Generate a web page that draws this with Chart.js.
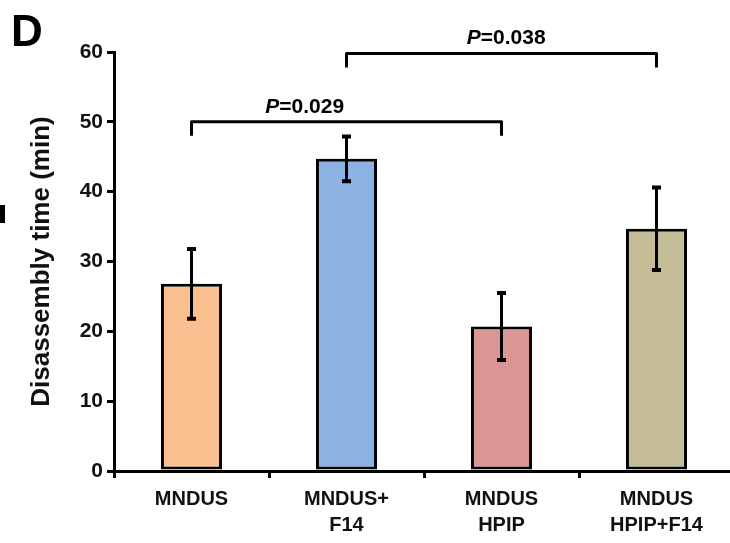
<!DOCTYPE html>
<html>
<head>
<meta charset="utf-8">
<script src="https://cdn.jsdelivr.net/npm/chart.js@4.4.1/dist/chart.umd.min.js"></script>
<style>
  html, body { margin: 0; padding: 0; background: #fff; overflow: hidden; }
  #box { width: 740px; height: 543px; }
</style>
</head>
<body>
<div id="box"><canvas id="myChart" width="740" height="543"></canvas></div>
<script>
// data
const groups = [['MNDUS'], ['MNDUS+', 'F14'], ['MNDUS', 'HPIP'], ['MNDUS', 'HPIP+F14']];
const meanTime = [26.8, 44.7, 20.7, 34.7];
const errTime = [5.0, 3.2, 4.8, 5.9];
const barColors = ['#FAC090', '#8DB3E2', '#D99694', '#C4BD97'];
const yTicks = [0, 10, 20, 30, 40, 50, 60];

// significance brackets
const sigFrom = [0, 1];
const sigTo = [2, 3];
const sigLevel = [50, 59.8];
const sigText = ['=0.029', '=0.038'];
const sigTextAt = [0.73, 2.03];

const fontFam = '"Liberation Sans", Arial, sans-serif';

const errorBars = {
  id: 'errorBars',
  afterDatasetsDraw(chart) {
    const ctx = chart.ctx;
    const y = chart.scales.y;
    const meta = chart.getDatasetMeta(0);
    ctx.save();
    ctx.strokeStyle = '#000';
    meta.data.forEach((bar, i) => {
      const top = y.getPixelForValue(meanTime[i] + errTime[i]);
      const bot = y.getPixelForValue(meanTime[i] - errTime[i]);
      ctx.lineWidth = 3;
      ctx.beginPath();
      ctx.moveTo(bar.x, top);
      ctx.lineTo(bar.x, bot);
      ctx.stroke();
      ctx.lineWidth = 4;
      ctx.beginPath();
      ctx.moveTo(bar.x - 4.5, top);
      ctx.lineTo(bar.x + 4.5, top);
      ctx.moveTo(bar.x - 4.5, bot);
      ctx.lineTo(bar.x + 4.5, bot);
      ctx.stroke();
    });
    ctx.restore();
  }
};

const brackets = {
  id: 'brackets',
  afterDraw(chart) {
    const ctx = chart.ctx;
    const x = chart.scales.x;
    const y = chart.scales.y;
    ctx.save();
    ctx.strokeStyle = '#000';
    ctx.fillStyle = '#000';
    ctx.lineWidth = 3;
    ctx.lineJoin = 'round';
    for (let i = 0; i < sigFrom.length; i++) {
      const x1 = x.getPixelForValue(sigFrom[i]);
      const x2 = x.getPixelForValue(sigTo[i]);
      const yy = y.getPixelForValue(sigLevel[i]);
      ctx.beginPath();
      ctx.moveTo(x1, yy + 14);
      ctx.lineTo(x1, yy);
      ctx.lineTo(x2, yy);
      ctx.lineTo(x2, yy + 14);
      ctx.stroke();

      // label: italic P then the value
      const cx = x.getPixelForValue(0) + (x.getPixelForValue(1) - x.getPixelForValue(0)) * sigTextAt[i];
      ctx.textBaseline = 'middle';
      ctx.font = 'italic bold 21px ' + fontFam;
      const pw = ctx.measureText('P').width;
      ctx.font = 'bold 21px ' + fontFam;
      const vw = ctx.measureText(sigText[i]).width;
      const sx = cx - (pw + vw) / 2;
      ctx.font = 'italic bold 21px ' + fontFam;
      ctx.fillText('P', sx, yy - 15);
      ctx.font = 'bold 21px ' + fontFam;
      ctx.fillText(sigText[i], sx + pw, yy - 15);
    }
    // panel letter and the edge of the neighbouring panel
    ctx.font = 'bold 44px ' + fontFam;
    ctx.textBaseline = 'alphabetic';
    ctx.fillText('D', 11, 46);
    ctx.fillRect(0, 205, 5, 18);
    ctx.restore();
  }
};

const ctx = document.getElementById('myChart');

new Chart(ctx, {
  type: 'bar',
  data: {
    labels: groups,
    datasets: [{
      data: meanTime,
      backgroundColor: barColors,
      borderColor: '#000',
      borderWidth: 3,
      borderSkipped: false,
      categoryPercentage: 1,
      barPercentage: 0.394
    }]
  },
  options: {
    responsive: false,
    animation: false,
    devicePixelRatio: 1,
    layout: { padding: { top: 52, right: 6, left: 0, bottom: 0 } },
    plugins: {
      legend: { display: false },
      tooltip: { enabled: false }
    },
    scales: {
      x: {
        afterFit(s) { s.height = 72; },
        border: { display: true, color: '#000', width: 3 },
        grid: {
          drawOnChartArea: false,
          drawTicks: true,
          tickLength: 7,
          tickWidth: 3,
          tickColor: '#000',
          lineWidth: 3,
          color: '#000'
        },
        ticks: {
          color: '#111',
          padding: 8,
          font: { family: fontFam, size: 20, weight: 'bold', lineHeight: 1.3 }
        }
      },
      y: {
        min: 0,
        max: 60,
        afterFit(s) { s.width = 114; },
        afterBuildTicks(s) { s.ticks = yTicks.map(v => ({ value: v })); },
        border: { display: true, color: '#000', width: 3 },
        grid: {
          drawOnChartArea: false,
          drawTicks: true,
          tickLength: 7,
          tickWidth: 3,
          tickColor: '#000',
          lineWidth: 3,
          color: '#000'
        },
        ticks: {
          color: '#111',
          padding: 4,
          font: { family: fontFam, size: 21, weight: 'bold' }
        },
        title: {
          display: true,
          text: 'Disassembly time (min)',
          color: '#111',
          padding: { top: 26, bottom: 0 },
          font: { family: fontFam, size: 26, weight: 'bold' }
        }
      }
    }
  },
  plugins: [errorBars, brackets]
});
</script>
</body>
</html>
